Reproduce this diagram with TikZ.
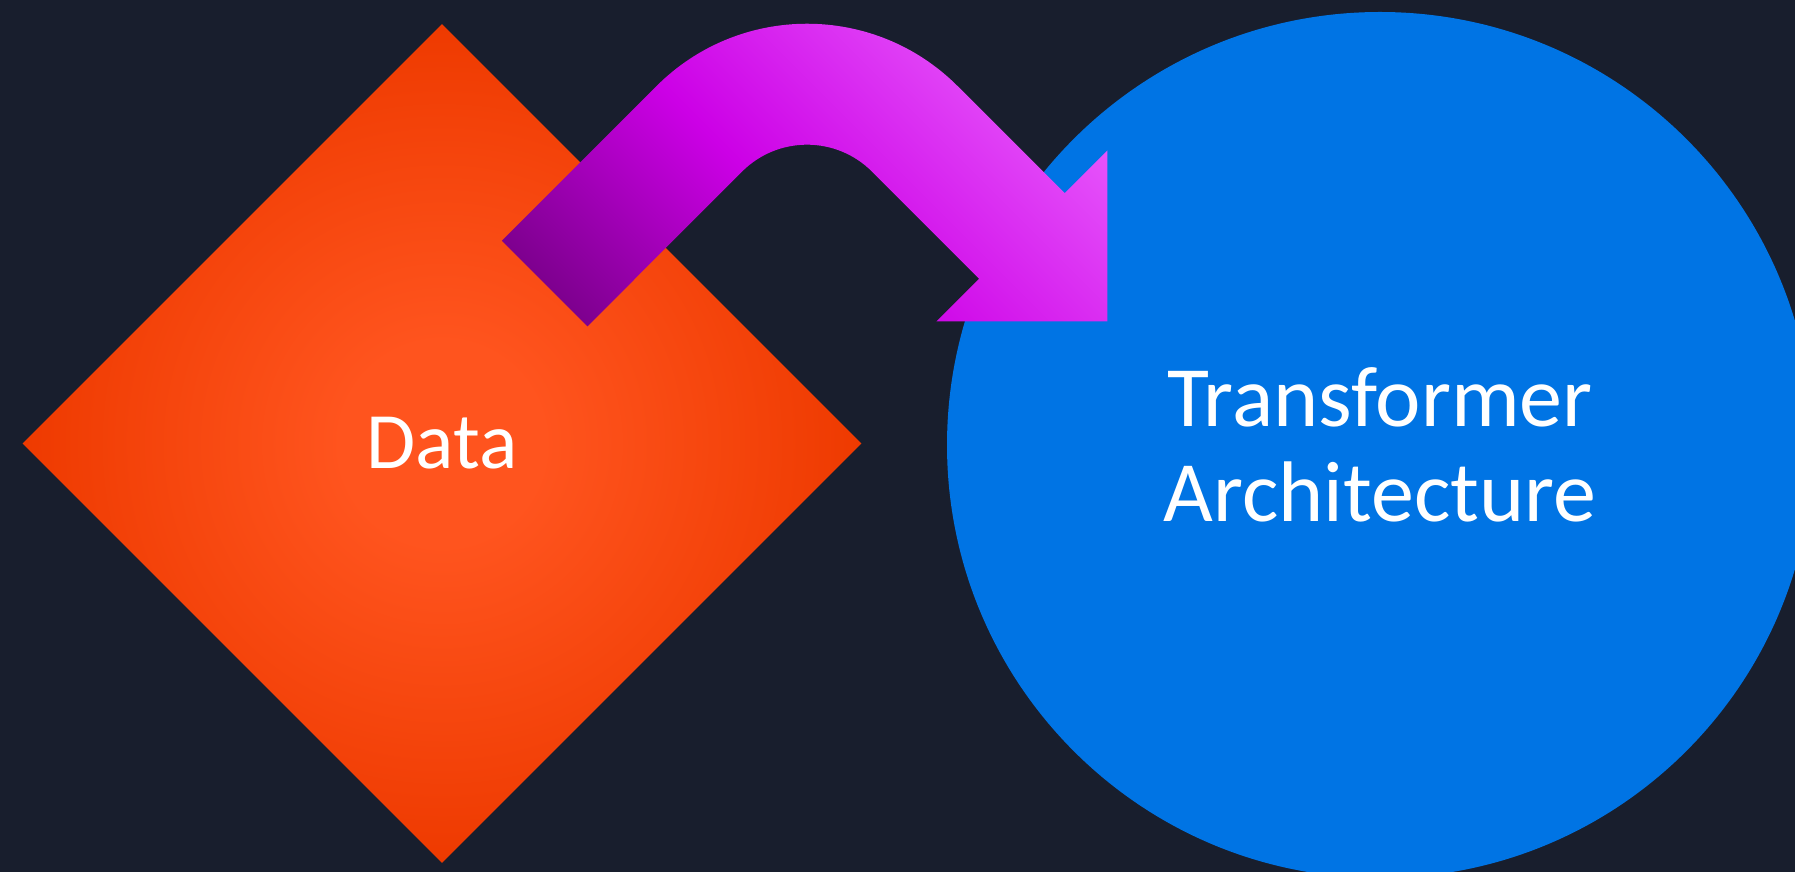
\documentclass[tikz,border=0pt]{standalone}
\usepackage{fontspec}
\usetikzlibrary{shapes.geometric}
\newfontfamily\diagfont{Carlito}

\definecolor{bgnavy}{HTML}{181E2D}
\definecolor{datacore}{HTML}{FF541E}
\definecolor{dataedge}{HTML}{EE3A00}
\definecolor{archblue}{HTML}{0074E4}
\definecolor{arrowdark}{HTML}{7E008F}
\definecolor{arrowmid}{HTML}{CC00E6}
\definecolor{arrowlight}{HTML}{E653FB}

\pgfdeclareradialshading{dataglow}{\pgfpoint{0bp}{0bp}}{color(0bp)=(datacore); color(6bp)=(datacore); color(25bp)=(dataedge); color(60bp)=(dataedge)}
\pgfdeclarehorizontalshading{arrowglow}{100bp}{color(0bp)=(arrowdark); color(36.34bp)=(arrowdark); color(48.64bp)=(arrowmid); color(63.67bp)=(arrowlight); color(100bp)=(arrowlight)}

\tikzset{
  datashape/.style={diamond, aspect=1, minimum width=839pt, minimum height=839pt, inner sep=0pt,
    shade, shading=dataglow, text=white, font=\diagfont\fontsize{80}{96}\selectfont},
  archshape/.style={circle, minimum size=866pt, inner sep=0pt, fill=archblue, text=white,
    align=center, font=\diagfont\fontsize{86}{95}\selectfont}
}

\begin{document}
\begin{tikzpicture}[x=1pt,y=1pt]
  \useasboundingbox (0,0) rectangle (1795,872);
  \clip (0,0) rectangle (1795,872);
  \fill[bgnavy] (0,0) rectangle (1795,872);

  \node[datashape] (data) at (442,428.5) {Data};
  \node[archshape] (arch) at (1380,427) {Transformer\\Architecture};

  % bent block arrow, shaded along the diagonal
  \begin{scope}
    \clip (501.9,631.3) -- (656.5,785.9) arc[start angle=135,end angle=45,radius=212.9]
      -- (1064.7,678.8) -- (1107.4,721.5) -- (1107.4,550.5) -- (936.4,550.5) -- (979.1,593.2)
      -- (872.0,700.4) arc[start angle=45,end angle=135,radius=91.9] -- (587.5,545.7) -- cycle;
    \shade[shading=arrowglow,shading angle=45] (355,226) rectangle (1255,1126);
  \end{scope}
\end{tikzpicture}
\end{document}
